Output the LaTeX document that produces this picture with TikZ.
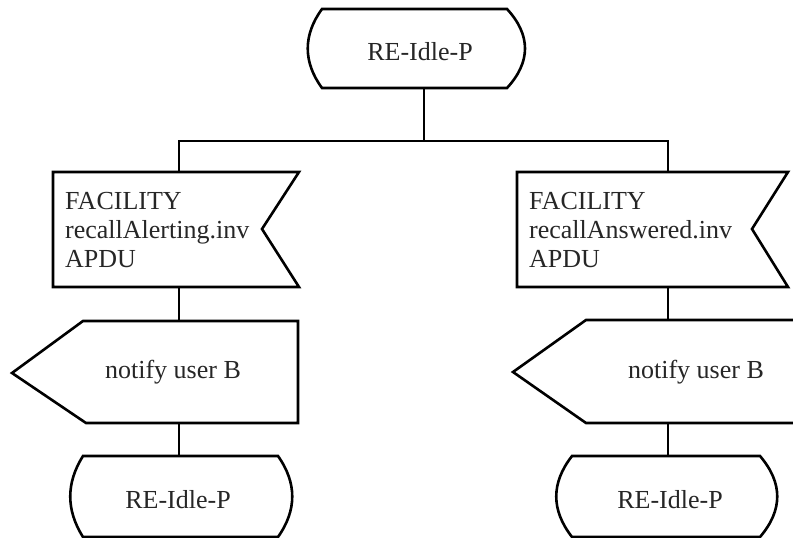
\documentclass[tikz,border=0pt]{standalone}
\usepackage{fontspec}
\setmainfont{Liberation Serif}
\begin{document}
\begin{tikzpicture}[x=1pt,y=-1pt,
  shapeline/.style={line width=2.6pt, line join=miter},
  conn/.style={line width=2.6pt},
  lbl/.style={font=\fontsize{26}{29}\selectfont, inner sep=0pt, text=black!85}]
\useasboundingbox (0,0) rectangle (793,538);

% ---- shapes ----
% top state
\draw[shapeline] (322,9) -- (507,9) .. controls (531,35) and (531,62) .. (507,88)
  -- (322,88) .. controls (303,62) and (303,35) .. (322,9) -- cycle;
% left input signal
\draw[shapeline] (53,172) -- (299,172) -- (262,229) -- (299,287) -- (53,287) -- cycle;
% right input signal
\draw[shapeline] (517,172) -- (788,172) -- (752,229) -- (788,287) -- (517,287) -- cycle;
% left output
\draw[shapeline] (83,321) -- (298,321) -- (298,423) -- (86,423) -- (12,373) -- cycle;
% right output (cut at edge)
\draw[shapeline] (800,320) -- (586,320) -- (513,372) -- (586,423) -- (800,423);
% bottom-left state
\draw[shapeline] (83,456) -- (278,456) .. controls (297,483) and (297,510) .. (278,537)
  -- (83,537) .. controls (66,510) and (66,483) .. (83,456) -- cycle;
% bottom-right state
\draw[shapeline] (572,456) -- (760,456) .. controls (783,483) and (783,510) .. (760,537)
  -- (572,537) .. controls (551,510) and (551,483) .. (572,456) -- cycle;

% ---- texts ----
\node[lbl, anchor=base] (top) at (420,60) {RE-Idle-P};
\node[lbl, anchor=west, align=left] (facL) at (65,230.5) {FACILITY\\recallAlerting.inv\\APDU};
\node[lbl, anchor=west, align=left] (facR) at (529,230.5) {FACILITY\\recallAnswered.inv\\APDU};
\node[lbl, anchor=base] (notL) at (173,378) {notify user B};
\node[lbl, anchor=base] (notR) at (696,378) {notify user B};
\node[lbl, anchor=base] (endL) at (178,508) {RE-Idle-P};
\node[lbl, anchor=base] (endR) at (670,508) {RE-Idle-P};

% ---- connector points ----
\coordinate (topB) at (424,88);
\coordinate (split) at (424,141);
\coordinate (brL) at (179,141);
\coordinate (brR) at (668,141);
\coordinate (facLT) at (179,172);
\coordinate (facRT) at (668,172);
\coordinate (facLB) at (179,287);
\coordinate (facRB) at (668,287);
\coordinate (notLT) at (179,321);
\coordinate (notRT) at (668,320);
\coordinate (notLB) at (179,423);
\coordinate (notRB) at (668,423);
\coordinate (endLT) at (179,456);
\coordinate (endRT) at (668,456);

% ---- connectors ----
\draw[conn] (topB) -- (split);
\draw[conn, line join=miter] (facLT) -- (brL) -- (brR) -- (facRT);
\draw[conn] (facLB) -- (notLT);
\draw[conn] (facRB) -- (notRT);
\draw[conn] (notLB) -- (endLT);
\draw[conn] (notRB) -- (endRT);
\end{tikzpicture}
\end{document}
